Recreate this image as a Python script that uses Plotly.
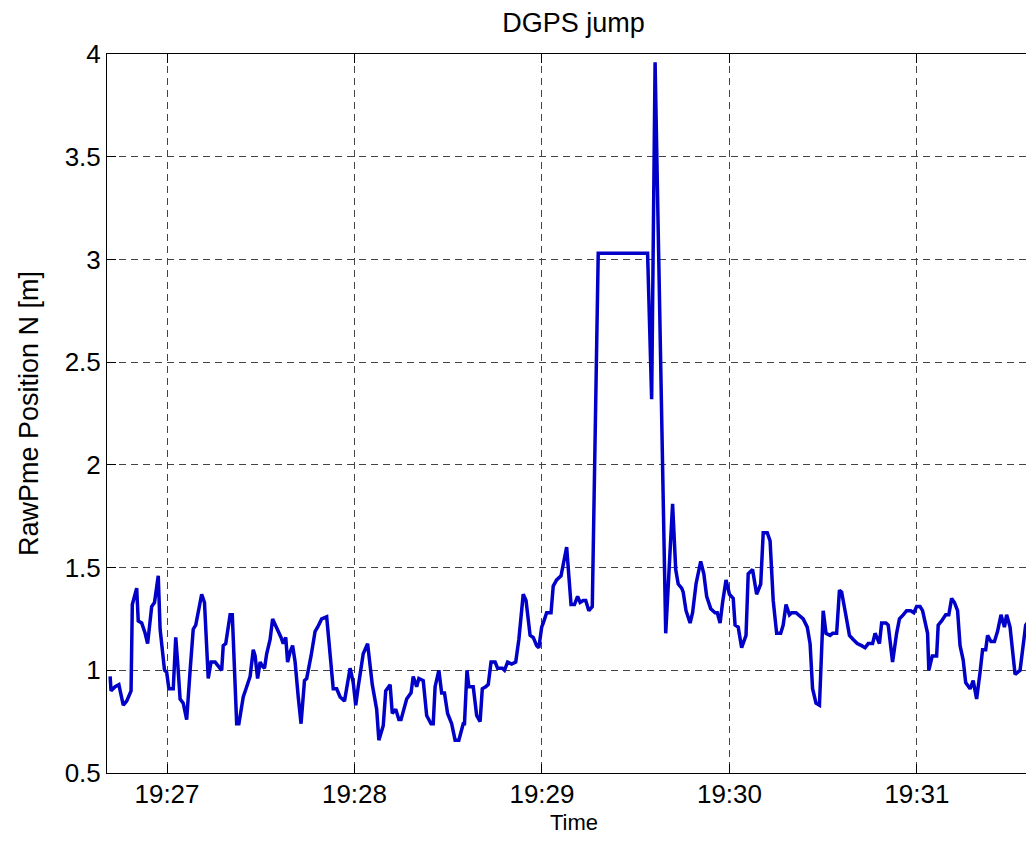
import pandas as pd
import plotly.graph_objects as go

# seconds after 19:26:40.8 (left edge of the axes) and RawPme Position N in metres
t_sec = [
    1.0, 1.3, 2.6, 3.8, 5.2, 6.3, 7.7, 8.1, 9.5, 10.0, 11.1, 12.2, 13.0, 14.3, 15.2, 16.4,
    17.0, 18.4, 19.1, 19.8, 21.2, 22.0, 22.6, 23.4, 24.4, 25.5, 26.6, 27.6, 28.4, 29.2, 30.3,
    31.2, 31.9, 32.4, 33.3, 34.6, 36.7, 37.2, 38.0, 39.4, 40.1, 41.5, 42.2, 43.6, 44.7, 45.8,
    46.8, 47.4, 48.2, 49.0, 49.7, 50.4, 51.1, 52.2, 53.0, 54.3, 55.7, 56.4, 57.2, 57.8, 58.6,
    59.4, 60.2, 61.2, 62.1, 63.2, 63.9, 65.3, 66.6, 67.4, 68.7, 70.3, 71.4, 72.4, 73.5, 74.6,
    76.0, 77.0, 77.8, 78.8, 79.6, 80.4, 82.0, 83.4, 84.2, 84.9, 86.3, 87.0, 88.4, 89.2, 90.6,
    91.3, 92.4, 93.4, 94.1, 95.2, 95.9, 97.3, 98.0, 99.1, 99.8, 101.2, 102.3, 103.7, 104.4,
    105.0, 106.2, 107.1, 108.0, 109.0, 110.3, 111.4, 112.6, 114.0, 114.4, 115.2, 115.8, 117.2,
    118.3, 119.4, 120.1, 121.2, 122.0, 122.9, 124.2, 125.0, 126.5, 127.2, 128.2, 129.5, 130.8,
    131.8, 133.2, 134.1, 135.4, 136.4, 137.5, 138.2, 139.1, 139.6, 140.7, 142.1, 142.8, 143.9,
    145.3, 147.1, 147.8, 148.5, 149.6, 150.6, 151.4, 152.4, 153.2, 154.2, 155.3, 157.2, 173.0,
    174.3, 175.4, 178.8, 181.0, 182.0, 182.8, 183.9, 184.4, 185.3, 186.6, 187.4, 188.5, 190.0,
    191.0, 191.9, 193.2, 194.6, 195.3, 196.2, 197.0, 198.1, 199.2, 200.4, 201.0, 202.0, 203.1,
    204.5, 205.2, 206.6, 207.9, 209.2, 210.0, 211.3, 212.2, 213.2, 214.3, 215.6, 216.4, 217.3,
    218.4, 219.1, 220.5, 222.0, 222.8, 224.1, 225.0, 225.8, 226.9, 228.0, 229.2, 230.1, 231.4,
    232.2, 233.5, 234.4, 235.1, 236.2, 237.6, 238.8, 240.1, 241.5, 242.6, 243.6, 245.0, 245.8,
    247.2, 247.9, 249.3, 250.0, 251.4, 252.7, 253.6, 254.8, 255.9, 257.2, 258.2, 259.1, 260.2,
    261.0, 261.6, 262.6, 263.0, 264.1, 265.5, 266.0, 267.1, 268.4, 269.4, 270.3, 271.2, 272.2,
    273.0, 274.0, 274.8, 276.2, 277.2, 278.3, 279.4, 280.2, 281.2, 281.8, 282.9, 284.0, 285.0,
    286.1, 287.2, 287.9, 289.0, 290.6, 292.2, 292.9, 294.0, 295.0, 295.9, 296.4, 297.5,
]
pos_n = [
    0.97, 0.90, 0.92, 0.93, 0.83, 0.85, 0.90, 1.32, 1.40, 1.24, 1.23, 1.18, 1.13, 1.31, 1.33, 1.46,
    1.20, 1.00, 0.99, 0.91, 0.91, 1.16, 1.04, 0.86, 0.84, 0.76, 1.00, 1.20, 1.22, 1.28, 1.37,
    1.33, 1.13, 0.96, 1.04, 1.04, 1.00, 1.12, 1.13, 1.27, 1.27, 0.74, 0.74, 0.87, 0.92, 0.97,
    1.10, 1.07, 0.96, 1.04, 1.02, 1.01, 1.08, 1.15, 1.25, 1.21, 1.16, 1.13, 1.16, 1.04, 1.09,
    1.12, 1.04, 0.87, 0.74, 0.95, 0.96, 1.07, 1.19, 1.21, 1.25, 1.26, 1.09, 0.91, 0.91, 0.87,
    0.85, 0.94, 1.01, 0.94, 0.83, 0.92, 1.08, 1.13, 1.02, 0.93, 0.81, 0.66, 0.73, 0.90, 0.93,
    0.79, 0.81, 0.76, 0.76, 0.83, 0.86, 0.89, 0.97, 0.92, 0.96, 0.95, 0.78, 0.74, 0.74,
    0.92, 1.00, 0.89, 0.89, 0.79, 0.74, 0.66, 0.66, 0.74, 0.74, 1.00, 0.92, 0.92,
    0.78, 0.75, 0.91, 0.92, 0.93, 1.04, 1.04, 1.01, 1.01, 1.00, 1.04, 1.03, 1.04,
    1.15, 1.37, 1.34, 1.17, 1.16, 1.12, 1.11, 1.21, 1.23, 1.28, 1.28, 1.41, 1.44,
    1.46, 1.60, 1.47, 1.32, 1.32, 1.36, 1.33, 1.34, 1.34, 1.29, 1.31, 3.03, 3.03,
    2.32, 3.96, 1.18, 1.81, 1.49, 1.42, 1.40, 1.38, 1.29, 1.23, 1.28, 1.42, 1.53,
    1.47, 1.36, 1.30, 1.28, 1.28, 1.23, 1.33, 1.44, 1.37, 1.35, 1.22, 1.21, 1.11,
    1.17, 1.47, 1.49, 1.37, 1.42, 1.67, 1.67, 1.63, 1.34, 1.18, 1.18, 1.22, 1.32,
    1.27, 1.28, 1.28, 1.26, 1.25, 1.21, 1.13, 0.91, 0.84, 0.83, 1.29, 1.18, 1.17,
    1.18, 1.18, 1.39, 1.38, 1.29, 1.17, 1.15, 1.13, 1.12, 1.11, 1.13, 1.13, 1.18,
    1.13, 1.23, 1.23, 1.22, 1.04, 1.18, 1.25, 1.27, 1.29, 1.29, 1.28, 1.31, 1.31,
    1.29, 1.24, 1.18, 1.00, 1.07, 1.07, 1.22, 1.24, 1.27, 1.27, 1.35, 1.33, 1.29,
    1.12, 1.05, 0.94, 0.91, 0.95, 0.86, 0.99, 1.10, 1.10, 1.17, 1.14, 1.14, 1.19,
    1.27, 1.21, 1.27, 1.21, 0.98, 1.00, 1.09, 1.22, 1.24, 1.18, 1.10, 1.10,
]

tick_times = ["19:27", "19:28", "19:29", "19:30", "19:31"]

t0 = pd.Timestamp("2009-01-01 19:26:40.8")
x = t0 + pd.to_timedelta(t_sec, unit="s")
tickvals = [pd.Timestamp("2009-01-01 " + s) for s in tick_times]

fig = go.Figure()
fig.add_trace(go.Scatter(x=x, y=pos_n, mode="lines",
                         line=dict(color="#0000C8", width=3.5)))

# the page body adds 8px around the figure, so the figure is sized to fit 1034x843
fig.update_layout(
    width=1018, height=827,
    margin=dict(l=99, r=0, t=46, b=62),
    plot_bgcolor="white", paper_bgcolor="white",
    font=dict(family="Liberation Sans, Arial, sans-serif", size=26, color="black"),
    showlegend=False,
    title=dict(text="DGPS jump", font=dict(size=27),
               xref="paper", x=0.5076, xanchor="center",
               yref="container", y=0.983, yanchor="middle"),
)
fig.update_xaxes(
    range=[t0, t0 + pd.Timedelta(seconds=294.1)],
    tickvals=tickvals, ticktext=tick_times, ticklabelstandoff=-2,
    showgrid=True, gridcolor="#444444", gridwidth=1, griddash="7px,5px",
    showline=True, linecolor="black", linewidth=1, mirror="ticks",
    ticks="inside", ticklen=9, tickcolor="black",
    zeroline=False, automargin=False,
)
fig.update_yaxes(
    range=[0.5, 4], dtick=0.5,
    showgrid=True, gridcolor="#444444", gridwidth=1, griddash="7px,5px",
    showline=True, linecolor="black", linewidth=1,
    ticks="inside", ticklen=9, tickcolor="black",
    title=dict(text="RawPme Position N [m]", standoff=18, font=dict(size=27)),
    zeroline=False, automargin=False,
)
# x label sits below the margin limit of an axis title, so place it directly
fig.add_annotation(text="Time", xref="paper", yref="paper", x=0.508, y=-0.0695,
                   xanchor="center", yanchor="middle", showarrow=False,
                   font=dict(size=22))

fig.write_html("out.html")
